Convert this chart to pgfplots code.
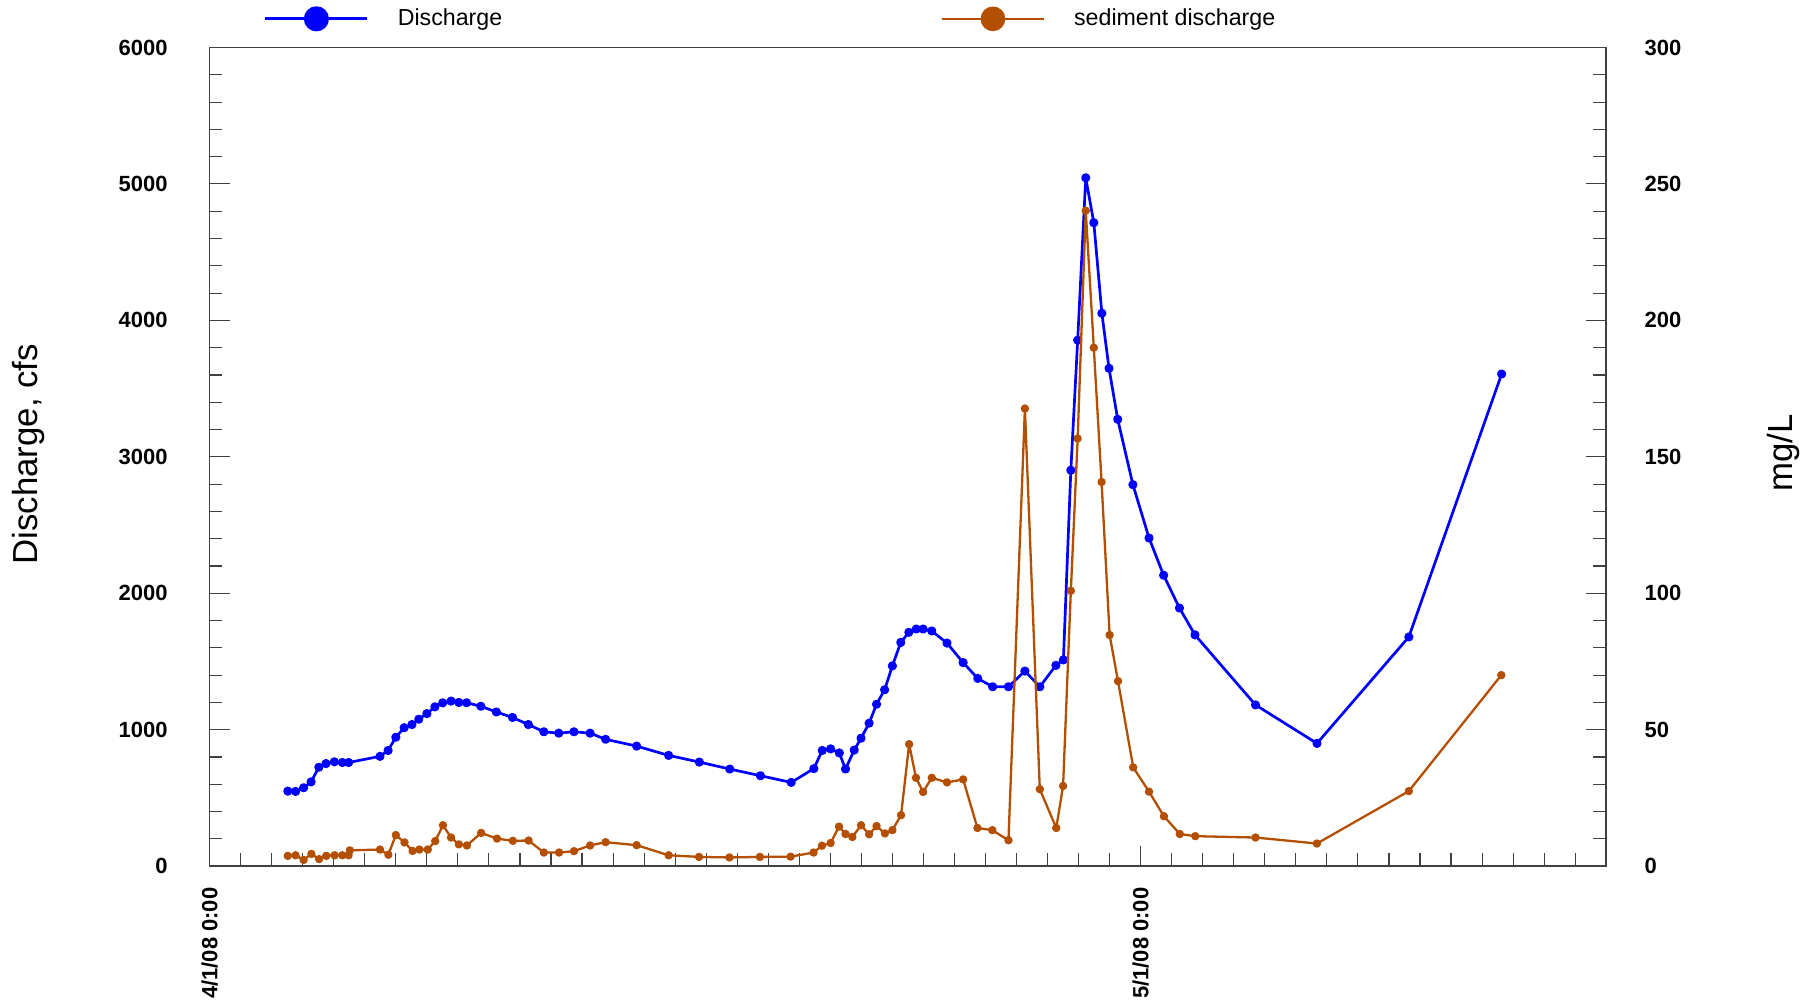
\documentclass[border=0pt]{standalone}
\usepackage{fontspec}
\setmainfont{Liberation Sans}
\usepackage{pgfplots}
\pgfplotsset{compat=1.18}
\definecolor{qblue}{RGB}{0,0,255}
\definecolor{qorange}{RGB}{180,78,0}
\definecolor{axgray}{RGB}{64,64,64}
\begin{document}
\begin{tikzpicture}
\pgfplotsset{
  common/.style={
    scale only axis, width=698.3pt, height=409.35pt,
    xmin=0, xmax=45,
    tick align=inside,
    major tick length=10pt, minor tick length=6.4pt,
    tick style={axgray, line width=0.55pt},
    axis line style={axgray, line width=0.75pt},
    tick label style={font=\bfseries\fontsize{11}{13}\selectfont},
    /pgf/number format/assume math mode=true,
    /pgf/number format/1000 sep={},
  }
}
\begin{axis}[common,
  ymin=0, ymax=6000,
  ytick={0,1000,...,6000}, minor y tick num=4,
  xtick={0,30}, xticklabels={4/1/08 0:00, 5/1/08 0:00},
  minor xtick={1,...,44},
  xtick pos=left, ytick pos=left,
  xticklabel style={yshift=-10.5pt, rotate=90, anchor=east, inner sep=0pt},
  yticklabel style={inner sep=0pt, xshift=-20.8pt},
]
\addplot[qblue, line width=1.35pt, line join=round, mark=*, mark size=1.6pt] table {
x y
2.52 550
2.77 548
3.03 575
3.27 618
3.52 725
3.75 752
4.02 765
4.28 760
4.48 760
5.49 805
5.75 848
6.00 945
6.27 1015
6.52 1038
6.74 1077
7.00 1118
7.26 1168
7.51 1197
7.78 1210
8.03 1200
8.28 1198
8.74 1172
9.24 1130
9.76 1090
10.27 1038
10.77 985
11.25 975
11.74 985
12.26 975
12.76 930
13.76 880
14.79 812
15.78 763
16.76 712
17.75 663
18.74 614
19.47 715
19.74 848
20.01 860
20.29 830
20.49 712
20.77 851
20.99 938
21.25 1048
21.49 1187
21.75 1293
22.00 1468
22.27 1640
22.53 1714
22.77 1738
22.99 1738
23.27 1724
23.76 1635
24.28 1492
24.75 1376
25.23 1315
25.74 1315
26.27 1430
26.75 1315
27.27 1472
27.51 1512
27.75 2902
27.97 3855
28.23 5045
28.49 4716
28.75 4052
28.98 3649
29.26 3275
29.75 2796
30.27 2405
30.74 2132
31.25 1892
31.75 1695
33.70 1182
35.68 900
38.64 1680
41.63 3607
};
\end{axis}
\begin{axis}[common,
  ymin=0, ymax=300,
  axis x line=none, axis y line*=right,
  ytick={0,50,...,300}, minor y tick num=4,
  yticklabel style={inner sep=0pt, xshift=19pt, anchor=west},
  legend columns=2,
  legend style={draw=none, fill=none, inner sep=0pt, outer sep=0pt,
    at={(0.039,1.035)}, anchor=west,
    font=\fontsize{11.6}{14}\selectfont,
    nodes={inner sep=0pt},
    /tikz/every odd column/.append style={column sep=14.5pt},
    /tikz/every even column/.append style={column sep=219.3pt}},
  legend image code/.code={
    \draw[#1, mark=none] (0pt,0pt) -- (51pt,0pt);
    \fill[#1, mark=none] (25.5pt,0pt) circle (5.6pt);},
]
\addlegendimage{qblue, line width=1.35pt, mark=*, mark size=1.6pt}
\addlegendentry{Discharge}
\addplot[qorange, line width=1.15pt, line join=round, mark=*, mark size=1.5pt] table {
x y
2.52 3.8
2.77 4.0
3.03 2.3
3.28 4.5
3.53 2.6
3.76 3.8
4.03 4.0
4.28 4.0
4.48 4.0
4.52 5.8
5.49 6.1
5.76 4.2
6.00 11.4
6.28 8.7
6.54 5.6
6.76 6.1
7.03 6.1
7.27 9.2
7.52 15.0
7.78 10.5
8.03 8.0
8.29 7.6
8.75 12.2
9.26 10.1
9.77 9.3
10.28 9.4
10.77 5.0
11.26 5.0
11.74 5.5
12.26 7.6
12.76 8.8
13.76 7.7
14.79 4.0
15.77 3.4
16.75 3.2
17.73 3.4
18.72 3.5
19.46 5.0
19.73 7.5
20.01 8.5
20.28 14.5
20.49 11.8
20.71 10.7
20.99 15.0
21.25 11.7
21.49 14.7
21.76 12.0
22.00 13.2
22.28 18.7
22.54 44.7
22.76 32.4
22.99 27.2
23.27 32.4
23.76 30.7
24.28 31.8
24.74 14.0
25.22 13.2
25.74 9.5
26.27 167.7
26.75 28.2
27.28 14.0
27.50 29.4
27.75 100.9
27.97 156.7
28.23 240.2
28.49 190.0
28.74 140.8
29.00 84.7
29.27 67.8
29.76 36.2
30.27 27.3
30.75 18.3
31.26 11.8
31.76 11.0
33.70 10.5
35.68 8.3
38.64 27.5
41.62 70.0
};
\addlegendentry{sediment discharge}
\end{axis}
\node[rotate=90, font=\fontsize{17.4}{20}\selectfont] at (-90.3pt,205.9pt) {Discharge, cfs};
\node[rotate=90, font=\fontsize{17.4}{20}\selectfont] at (786.85pt,206.7pt) {mg/L};
\pgfresetboundingbox
\path[use as bounding box] (-104.8pt,-68.9pt) rectangle (803.2pt,433.1pt);
\end{tikzpicture}
\end{document}
